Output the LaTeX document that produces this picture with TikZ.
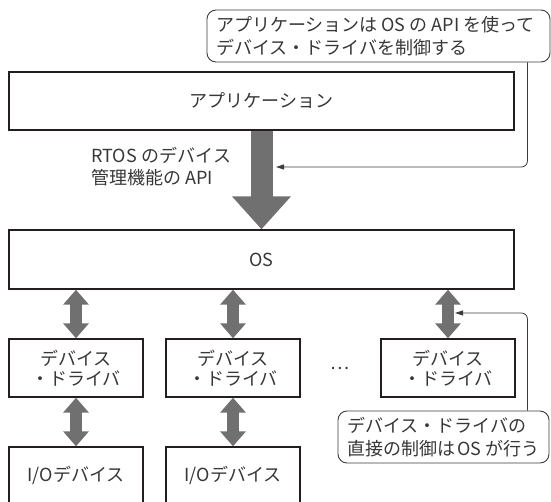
\documentclass[tikz,border=0pt]{standalone}
\usepackage{fontspec}
\setmainfont{Noto Sans CJK JP}
\usetikzlibrary{arrows.meta,calc}
\definecolor{txt}{RGB}{55,55,55}
\definecolor{edge}{RGB}{35,31,32}
\definecolor{agray}{RGB}{112,112,112}
\definecolor{cline}{RGB}{60,60,60}
\begin{document}
\begin{tikzpicture}[x=1pt,y=-1pt,
  font=\fontsize{18}{20}\selectfont,
  box/.style={draw=edge,line width=1.4pt,fill=white,text=txt,inner sep=0pt,align=center},
  note/.style={draw=cline,line width=0.9pt,rounded corners=9pt,text=txt,inner xsep=9pt,inner ysep=0pt,align=left,font=\fontsize{18}{23.5}\selectfont},
  fat/.style={draw=agray,line width=22pt,-{Triangle[width=57pt,length=33pt]}},
  dbl/.style={draw=agray,line width=12pt,{Triangle[width=25pt,length=15pt]}-{Triangle[width=25pt,length=15pt]}},
  conn/.style={draw=cline,line width=0.8pt,rounded corners=6pt,-{Triangle[width=5pt,length=8pt]}},
  lbl/.style={text=txt,align=left,inner sep=0pt,font=\fontsize{18}{22}\selectfont}]

\useasboundingbox (0,0) rectangle (551,501);
\clip (0,0) rectangle (551,501);

% callouts
\node[note,minimum width=343pt,minimum height=52pt,text width=325pt] (n1) at (378.5,36)
  {アプリケーションは\hspace{4pt}OS\hspace{4pt}の\hspace{4pt}API\hspace{4pt}を使って\\デバイス・ドライバを制御する};
\node[note,minimum width=211pt,minimum height=52pt,text width=193pt] (n2) at (443.5,437)
  {デバイス・ドライバの\\直接の制御は\hspace{2pt}OS\hspace{4pt}が行う};

% main boxes
\node[box,minimum width=505pt,minimum height=58pt] (app) at (261.5,101) {アプリケーション};
\node[box,minimum width=505pt,minimum height=59pt] (os) at (261.5,259.5) {OS};

\node[box,minimum width=134pt,minimum height=58pt] (d1) at (76,368) {デバイス\\・ドライバ};
\node[box,minimum width=134pt,minimum height=58pt] (d2) at (233,368) {デバイス\\・ドライバ};
\node[box,minimum width=134pt,minimum height=58pt] (d3) at (448,368) {デバイス\\・ドライバ};
\node[text=txt,inner sep=0pt] (dots) at (340,368) {…};

\node[box,minimum width=134pt,minimum height=56pt] (io1) at (76,475) {I/Oデバイス};
\node[box,minimum width=134pt,minimum height=56pt] (io2) at (233,475) {I/Oデバイス};

% label
\node[lbl,anchor=west] (api) at (91,167) {RTOS\hspace{5pt}のデバイス\\管理機能の\hspace{4pt}API};

% arrows
\draw[fat] (app.south) -- (os.north);
\draw[dbl] (os.south -| d1.north) -- (d1.north);
\draw[dbl] (os.south -| d2.north) -- (d2.north);
\draw[dbl] (os.south -| d3.north) -- (d3.north);
\draw[dbl] (d1.south) -- (io1.north);
\draw[dbl] (d2.south) -- (io2.north);

% connectors
\coordinate (t1) at (276,167);
\coordinate (t2) at (455,313);
\draw[conn] ([xshift=-23pt]n1.south east) |- (t1);
\draw[conn] ([xshift=-22pt]n2.north east) |- (t2);
\end{tikzpicture}
\end{document}
